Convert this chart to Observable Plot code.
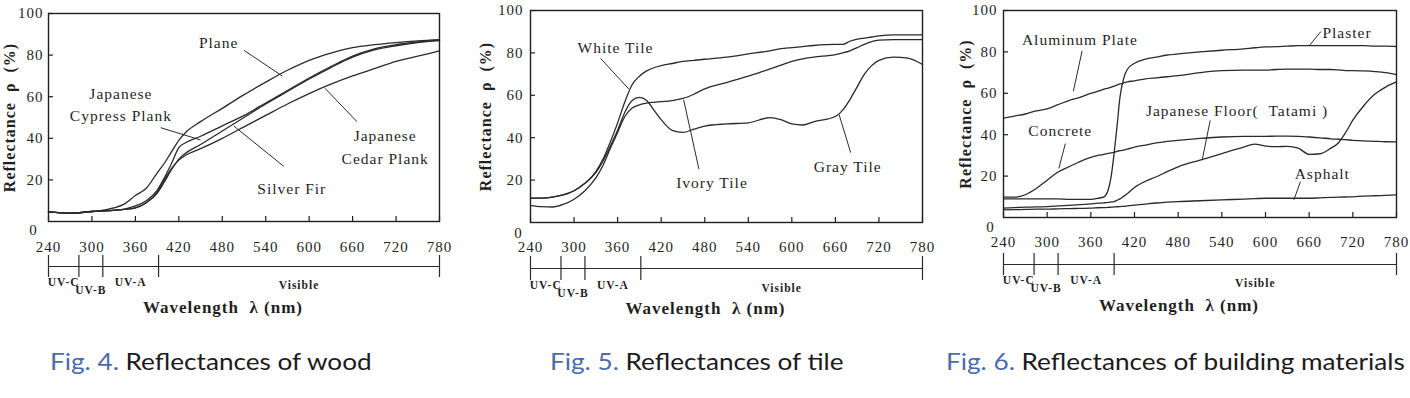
<!DOCTYPE html>
<html>
<head>
<meta charset="utf-8">
<script src="https://cdn.jsdelivr.net/npm/d3@7"></script>
<script src="https://cdn.jsdelivr.net/npm/@observablehq/plot@0.6"></script>
<style>
  html, body { margin: 0; padding: 0; background: #fff; }
  #root { position: relative; width: 1410px; height: 398px; overflow: hidden; background: #fff; }
  .panel { position: absolute; top: 0; width: 470px; height: 330px; }
  .panel svg { position: absolute; left: 0; }
  .cap { position: absolute; top: 349px; font-family: Lato, "Open Sans", sans-serif; font-size: 24px; line-height: 24px; white-space: nowrap; color: #1c1a1b; transform: scaleX(1.09); transform-origin: 0 0; }
  .cap span { color: #4a6cae; }
</style>
</head>
<body>
<div id="root"></div>
<script>
// ---------- shared axis data ----------
const xTicks = [240, 300, 360, 420, 480, 540, 600, 660, 720, 780];
const yTicks = [20, 40, 60, 80, 100];
const zeroTick = [0];
const bandEdges = [240, 282, 315, 392, 780];
const bandNames = ["UV-C", "UV-B", "UV-A", "Visible"];
const yTitle = "Reflectance\u00a0\u00a0ρ\u00a0\u00a0(%)";
const xTitle = "Wavelength\u00a0\u00a0λ\u00a0(nm)";
const captionNums = ["Fig. 4.", "Fig. 5.", "Fig. 6."];
const captionTexts = ["Reflectances of wood", "Reflectances of tile", "Reflectances of building materials"];

// ---------- Fig. 4 : wood ----------
const woodNm = [240,270,300,330,345,360,375,390,400,410,420,430,450,480,510,540,570,600,630,660,690,720,750,780];
const plane     = [4.6,4,4.8,6.5,8.5,12.5,16,23.3,28,33.6,39,43,48,54.4,61,67,72.7,77.5,81,83.6,85,86,86.8,87.4];
const cypress   = [4.6,4,4.8,5.5,6,7.5,10,15,21,28,35.5,38,41,46,51,57,63,69,74.5,79.5,83,85,86.3,87.2];
const silverFir = [4.6,4,4.8,5.3,5.8,6.5,9,13.5,19,25,30,33,37,43.5,50,56.5,62.5,68.5,74,79,82.5,84.5,86,87];
const cedar     = [4.6,4,4.8,5.3,5.8,6.5,9,14,20,25.5,29.5,32,35,40,45.5,51,56.5,61.5,66,70,73.5,77,79.5,82];
const woodNotes = [
  {label: "Plane", tx: 475, ty: 86.8, px: 510, py: 82.3, cx: 563, cy: 69.9},
  {label: "Japanese\nCypress Plank", tx: 340, ty: 57, px: 395, py: 45.1, cx: 450, cy: 39.2},
  {label: "Japanese\nCedar Plank", tx: 705, ty: 36.6, px: 666, py: 48, cx: 622, cy: 64},
  {label: "Silver Fir", tx: 576, ty: 16.6, px: 565, py: 26.5, cx: 496, cy: 45.9}
];

// ---------- Fig. 5 : tile ----------
const tileNm = [240,255,270,285,300,315,330,340,350,360,370,380,390,400,410,420,435,450,465,480,510,540,570,585,600,615,630,660,670,680,690,700,710,720,740,760,780];
const whiteTile = [11.5,11.5,12,13,15,18.5,24,30,38,47,57,65,69,71.5,73,74,75,76,76.5,77,78,79.5,81,82,82.5,83,83.5,84,84,85.5,86.5,87,87.5,88,88.5,88.5,88.5];
const ivoryTile = [8,7.5,7.3,8.5,11,15,21,27,35,42.5,50,54,55.5,56.3,56.7,57,57.5,58.5,60.5,63,66,69,72.5,74.2,76,77.2,78,79.2,80,81,82.5,84,85.3,86,86.3,86.3,86.3];
const grayTile  = [11.5,11.5,12,13,15,18.5,23.5,29,36,43.5,52,57.5,59,57.5,53,48.5,43.5,42.5,44,45.5,46.5,47,49.5,48.5,46.5,46,47.5,50,53,58,64,70,74,76.5,78,77.5,74.5];
const tileNotes = [
  {label: "White Tile", tx: 357, ty: 83.2, px: 336.5, py: 77.4, cx: 375.6, cy: 62.9},
  {label: "Ivory Tile", tx: 490, ty: 19.8, px: 472, py: 25.2, cx: 451, cy: 57.9},
  {label: "Gray Tile", tx: 677, ty: 27.1, px: 681, py: 33, cx: 665, cy: 51}
];

// ---------- Fig. 6 : building materials ----------
const buildNm = [240,255,270,285,300,315,330,345,360,370,378,384,388,392,396,400,405,410,420,435,450,465,480,510,540,570,585,600,615,630,645,660,675,690,700,710,720,735,750,765,780];
const plaster  = [9,9,9,9,9,9,8.8,8.8,8.8,9.3,10,13.5,20,31,44,58,67,71.5,74.5,76.5,77.5,78.5,79,80,80.8,81.5,82,82.4,82.5,82.8,83,83,83,83,83,83,83,83,82.8,82.8,82.6];
const aluminum = [48,49,50,51.5,52.5,54.5,56.5,58,60,61,62,62.5,63,63.5,64,64.5,65,65.5,66,67,67.5,68,68.5,70,71,71.2,71.2,71.2,71.5,71.7,71.7,71.7,71.5,71.5,71.3,71,71,70.8,70.5,70,69];
const concrete = [10,9.8,11,14,18,22,24.5,27,29,30,30.5,31,31.2,31.5,32,32.3,32.6,33,34,35,36,36.8,37.3,38.2,38.9,39.2,39.2,39.2,39.3,39.3,39.2,38.9,38.5,38,37.8,37.6,37.3,37,36.8,36.6,36.5];
const tatami   = [4.5,4.8,5,5.1,5.3,5.6,5.9,6.2,6.6,6.9,7.1,7.3,7.5,7.7,8.3,9,10.2,11.5,14.5,17.5,19.7,22.2,24.5,27.7,30.9,34,35.4,34.5,34.2,34.4,33.5,30.5,30.8,33.5,36,41,47,54,59.5,63,65.5];
const asphalt  = [3.7,3.8,3.9,4,4,4.2,4.3,4.4,4.5,4.7,4.8,4.9,5,5.1,5.2,5.3,5.4,5.6,6,6.5,7,7.4,7.7,8.1,8.5,8.9,9.1,9.3,9.3,9.3,9.3,9.3,9.5,9.7,9.8,9.9,10,10.3,10.5,10.7,10.9];
const buildNotes = [
  {label: "Plaster", tx: 712, ty: 90.4, px: 676, py: 89.8, cx: 660, cy: 82.9},
  {label: "Aluminum Plate", tx: 345, ty: 86.9, px: 348, py: 80.5, cx: 336, cy: 61},
  {label: "Concrete", tx: 318, ty: 42.9, px: 325, py: 35.7, cx: 316, cy: 23.7},
  {label: "Japanese Floor(\u00a0\u00a0Tatami\u00a0)", tx: 561, ty: 52.5, px: 524, py: 46.9, cx: 513, cy: 27.7},
  {label: "Asphalt", tx: 678, ty: 22, px: 648, py: 17.3, cx: 639, cy: 8.5}
];

// ---------- helpers ----------
function toRows(grid, series) {
  return series.flatMap(s => grid.map((nm, i) => ({series: s.name, nm, value: s.values[i]})));
}
const bands = bandNames.map((name, i) => ({name, lo: bandEdges[i], hi: bandEdges[i + 1]}));
const SERIF = "'Liberation Serif', 'Times New Roman', serif";
const INK = "#1f1f1f";

function makePanel(cfg) {
  const wrap = document.createElement("div");
  wrap.className = "panel";
  wrap.style.left = cfg.left + "px";
  const H = 262;
  const baseStyle = {fontFamily: SERIF, fontSize: "15px", color: INK, background: "none", letterSpacing: "1px", overflow: "visible"};

  const main = Plot.plot({
    width: 470, height: H,
    marginLeft: cfg.mL, marginRight: cfg.mR, marginTop: cfg.mT, marginBottom: H - cfg.fb,
    x: {domain: [240, 780]},
    y: {domain: [0, 100]},
    style: baseStyle,
    marks: [
      Plot.line(cfg.rows, {x: "nm", y: "value", z: "series", stroke: "#2a2a2a", strokeWidth: 1.3, curve: "monotone-x"}),
      Plot.frame({stroke: INK, strokeWidth: 1.4}),
      Plot.axisX({ticks: xTicks, tickSize: -5, tickFormat: () => "", label: null, strokeWidth: 1.2}),
      Plot.axisX({ticks: xTicks, tickSize: 0, tickPadding: cfg.xPad, label: null}),
      Plot.axisY({ticks: yTicks, tickSize: -5, tickFormat: () => "", label: null, strokeWidth: 1.2}),
      Plot.axisY({ticks: yTicks, tickSize: 0, tickPadding: cfg.yPad, label: null}),
      Plot.text(zeroTick, {frameAnchor: "bottom-left", text: d => String(d), dx: cfg.zDx, dy: cfg.zDy, textAnchor: "middle", lineAnchor: "middle"}),
      Plot.text([yTitle], {frameAnchor: "left", text: d => d, rotate: -90, dx: cfg.tDx, textAnchor: "middle", lineAnchor: "middle", fontWeight: "bold", fontSize: 16}),
      Plot.link(cfg.notes, {x1: "px", y1: "py", x2: "cx", y2: "cy", stroke: "#2a2a2a", strokeWidth: 1}),
      Plot.text(cfg.notes, {x: "tx", y: "ty", text: "label", fontSize: 15.5, lineHeight: 1.45, fill: INK})
    ]
  });
  main.style.top = "0px";

  const BH = 80, BT = 240;
  const band = Plot.plot({
    width: 470, height: BH,
    marginLeft: cfg.mL, marginRight: cfg.mR,
    marginTop: cfg.bTop - BT, marginBottom: BH - (cfg.bBot - BT),
    x: {domain: [240, 780], axis: null},
    y: {domain: [0, 1], axis: null},
    style: baseStyle,
    marks: [
      Plot.ruleY([0.5], {stroke: "#2a2a2a", strokeWidth: 1.2}),
      Plot.ruleX(bandEdges, {stroke: "#2a2a2a", strokeWidth: 1.2}),
      Plot.text(bands.filter(b => b.name === "UV-C" || b.name === "UV-A"), {x: b => (b.lo + b.hi) / 2, frameAnchor: "bottom", text: "name", dy: 5, lineAnchor: "middle", fontWeight: "bold", fontSize: 11.5}),
      Plot.text(bands.filter(b => b.name === "UV-B"), {x: b => (b.lo + b.hi) / 2, frameAnchor: "bottom", text: "name", dy: 13, lineAnchor: "middle", fontWeight: "bold", fontSize: 11.5}),
      Plot.text(bands.filter(b => b.name === "Visible"), {x: b => (b.lo + b.hi) / 2, frameAnchor: "bottom", text: "name", dy: 8, lineAnchor: "middle", fontWeight: "bold", fontSize: 11.5}),
      Plot.text([xTitle], {frameAnchor: "bottom", text: d => d, dx: -21, dy: cfg.wDy, lineAnchor: "middle", fontWeight: "bold", fontSize: 17})
    ]
  });
  band.style.top = BT + "px";

  wrap.appendChild(band);
  wrap.appendChild(main);
  return wrap;
}

const panels = [
  {left: 0, mL: 48, mR: 31, mT: 13, fb: 221, xPad: 20, yPad: 5, zDx: -15, zDy: 9, tDx: -39, bTop: 255, bBot: 277, wDy: 30,
   rows: toRows(woodNm, [{name: "Plane", values: plane}, {name: "Japanese Cypress Plank", values: cypress}, {name: "Silver Fir", values: silverFir}, {name: "Japanese Cedar Plank", values: cedar}]),
   notes: woodNotes},
  {left: 470, mL: 60, mR: 18, mT: 10, fb: 222, xPad: 19, yPad: 7, zDx: -12, zDy: 11, tDx: -45, bTop: 256, bBot: 280, wDy: 28,
   rows: toRows(tileNm, [{name: "White Tile", values: whiteTile}, {name: "Ivory Tile", values: ivoryTile}, {name: "Gray Tile", values: grayTile}]),
   notes: tileNotes},
  {left: 940, mL: 63, mR: 14, mT: 10, fb: 217, xPad: 19, yPad: 6, zDx: -13, zDy: 10, tDx: -38, bTop: 253, bBot: 275, wDy: 30,
   rows: toRows(buildNm, [{name: "Plaster", values: plaster}, {name: "Aluminum Plate", values: aluminum}, {name: "Concrete", values: concrete}, {name: "Japanese Floor (Tatami)", values: tatami}, {name: "Asphalt", values: asphalt}]),
   notes: buildNotes}
];

const root = document.getElementById("root");
panels.forEach(cfg => root.appendChild(makePanel(cfg)));

const capLeft = [50, 550, 946];
captionNums.forEach((num, i) => {
  const d = document.createElement("div");
  d.className = "cap";
  d.style.left = capLeft[i] + "px";
  const s = document.createElement("span");
  s.textContent = num;
  d.appendChild(s);
  d.appendChild(document.createTextNode(" " + captionTexts[i]));
  root.appendChild(d);
});
</script>
</body>
</html>
